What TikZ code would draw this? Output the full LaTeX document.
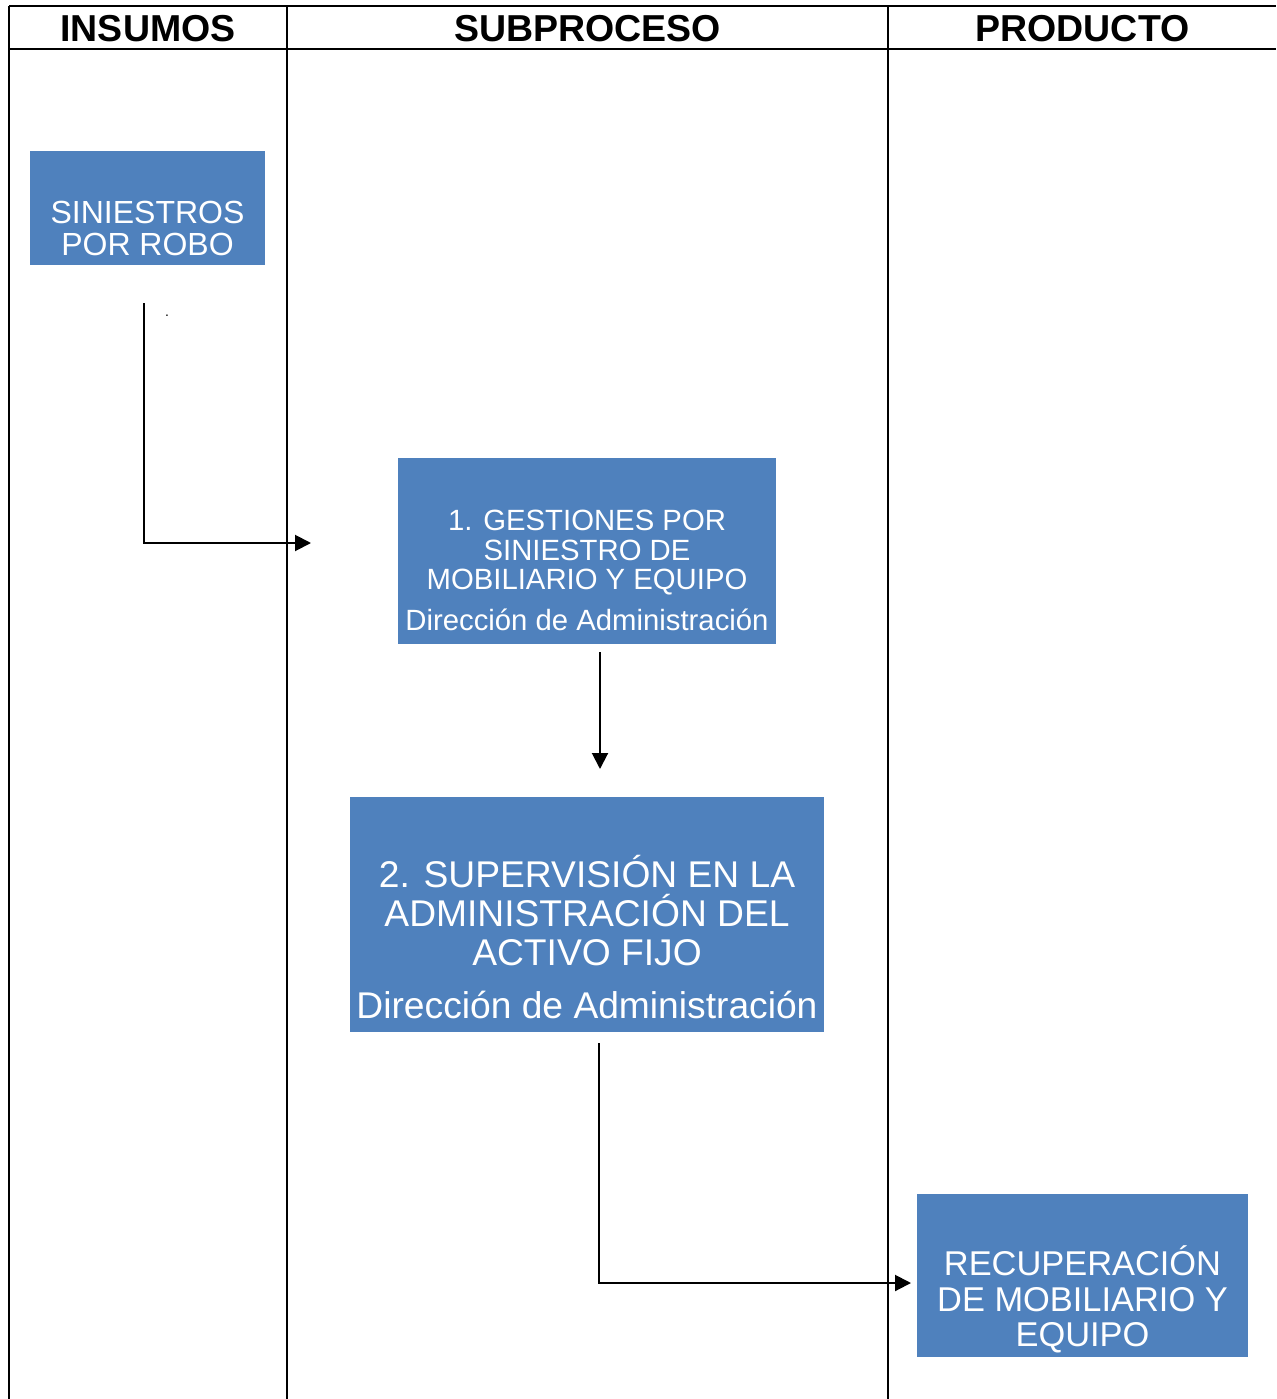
\documentclass[tikz,border=0pt]{standalone}
\usepackage{fontspec}
\setmainfont{Liberation Sans}
\usetikzlibrary{arrows.meta}
\definecolor{boxblue}{HTML}{4F81BD}
\tikzset{
  grid/.style={line width=2pt, black},
  blue box/.style={fill=boxblue, draw=none, anchor=north west, inner sep=0pt},
  head/.style={anchor=base, inner sep=0pt, font=\fontsize{37.5}{40}\selectfont\bfseries},
  wline/.style={anchor=base, inner sep=0pt, text=white},
  conn/.style={line width=2pt, -{Triangle[length=16pt,width=16pt]}},
}
\begin{document}
\begin{tikzpicture}[x=1pt,y=-1pt]
\useasboundingbox (0,0) rectangle (1276,1399);
% table
\draw[grid] (9,6) -- (1276,6);
\draw[grid] (9,49) -- (1276,49);
\draw[line width=1.5pt] (9,6) -- (9,1399);
\draw[grid] (287,6) -- (287,1399);
\draw[grid] (888,6) -- (888,1399);
% headers
\node[head] (h1) at (148,42) {INSUMOS};
\node[head] (h2) at (587.5,42) {SUBPROCESO};
\node[head] (h3) at (1082.5,42) {PRODUCTO};
% boxes
\node[blue box, minimum width=235pt, minimum height=114pt] (sin) at (30,151) {};
\node[blue box, minimum width=378pt, minimum height=186pt] (b1) at (398,458) {};
\node[blue box, minimum width=474pt, minimum height=235pt] (b2) at (350,797) {};
\node[blue box, minimum width=331pt, minimum height=163pt] (b3) at (917,1194) {};
% box texts
\begin{scope}[every node/.append style={font=\fontsize{32}{32}\selectfont}]
\node[wline] (sin1) at (147.5,223) {SINIESTROS};
\node[wline] (sin2) at (147.5,255) {POR ROBO};
\end{scope}
\begin{scope}[every node/.append style={font=\fontsize{29.3}{30}\selectfont}]
\node[wline] (b1a) at (587,530) {1. GESTIONES POR};
\node[wline] (b1b) at (587,560) {SINIESTRO DE};
\node[wline] (b1c) at (587,589.5) {MOBILIARIO Y EQUIPO};
\node[wline] (b1d) at (587,630) {Dirección de Administración};
\end{scope}
\begin{scope}[every node/.append style={font=\fontsize{37.2}{39}\selectfont}]
\node[wline] (b2a) at (587,887.5) {2. SUPERVISIÓN EN LA};
\node[wline] (b2b) at (587,926.5) {ADMINISTRACIÓN DEL};
\node[wline] (b2c) at (587,965.5) {ACTIVO FIJO};
\node[wline] (b2d) at (587,1018.5) {Dirección de Administración};
\end{scope}
\begin{scope}[every node/.append style={font=\fontsize{34.4}{35}\selectfont}]
\node[wline] (b3a) at (1082.5,1275.5) {RECUPERACIÓN};
\node[wline] (b3b) at (1082.5,1311.5) {DE MOBILIARIO Y};
\node[wline] (b3c) at (1082.5,1346.5) {EQUIPO};
\end{scope}
% small dot
\node[inner sep=0pt, font=\fontsize{14}{14}\selectfont] (dot) at (167,316) {.};
% connectors
\coordinate (c1s) at (144,303);
\coordinate (c1e) at (311,543);
\coordinate (c2s) at (600,652);
\coordinate (c2e) at (600,769);
\coordinate (c3s) at (599,1043);
\coordinate (c3e) at (911,1283);
\draw[conn] (c1s) |- (c1e);
\draw[conn] (c2s) -- (c2e);
\draw[conn] (c3s) |- (c3e);
\end{tikzpicture}
\end{document}
